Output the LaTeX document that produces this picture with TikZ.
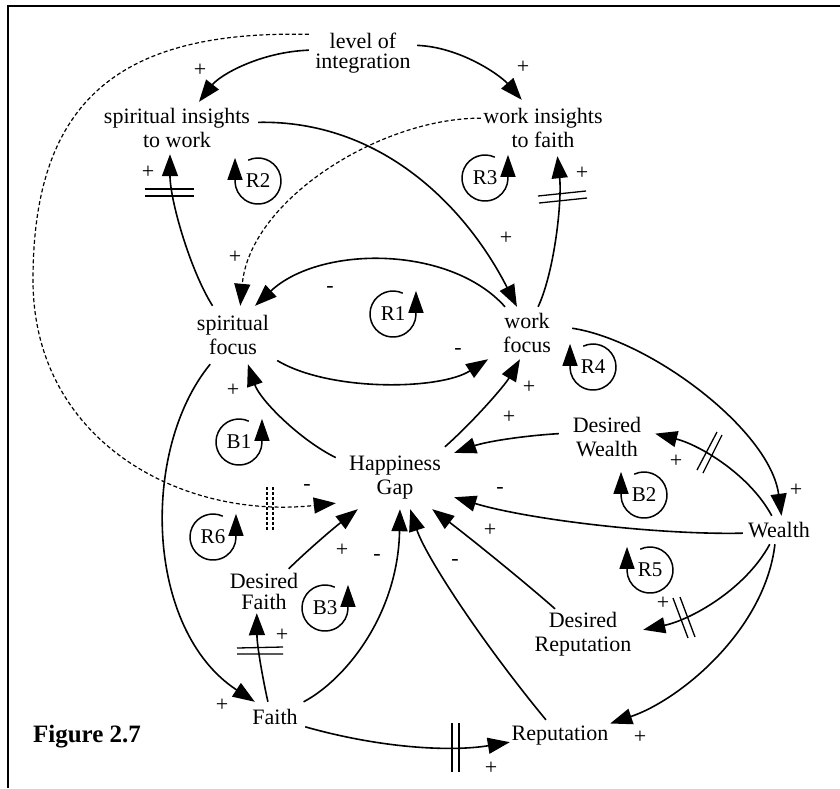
\documentclass[tikz,border=0pt]{standalone}
\usepackage{fontspec}
\setmainfont{Liberation Serif}
\usetikzlibrary{arrows.meta}

\tikzset{
  var/.style 2 args={inner sep=0pt, minimum width=#1pt, minimum height=#2pt,
    align=center, font=\fontsize{22}{24}\selectfont},
  link/.style={line width=1.6pt, -{Triangle[length=22pt,width=16pt]}},
  dlink/.style={line width=1.2pt, dash pattern=on 4pt off 2.5pt,
    -{Triangle[length=22pt,width=16pt]}},
  delay/.style={line width=1.3pt},
  ddelay/.style={line width=1.2pt, dash pattern=on 3pt off 2pt},
  sign/.style={inner sep=0pt, font=\fontsize{22}{24}\selectfont},
  loopline/.style={line width=1.5pt, -{Triangle[length=22pt,width=15pt]}},
  looptext/.style={inner sep=0pt, font=\fontsize{21}{22}\selectfont},
  pics/cwloop/.style={code={
    \draw[loopline] (115:23pt) arc[start angle=115,end angle=-178,radius=23pt] -- ++(0pt,24pt);
    \node[looptext] (-t) at (0,0) {#1};
  }},
  pics/ccwloop/.style={code={
    \draw[loopline] (65:23pt) arc[start angle=65,end angle=358,radius=23pt] -- ++(0pt,24pt);
    \node[looptext] (-t) at (0,0) {#1};
  }},
}

\begin{document}
\begin{tikzpicture}[x=1pt,y=-1pt]
\useasboundingbox (0,0) rectangle (840,788);

% frame (top and left edges)
\draw[line width=1.5pt] (8,788) -- (8,6) -- (840,6);

% variables
\node[var={108}{48}, font=\fontsize{22}{20}\selectfont] (lvl) at (363,53) {level of\\integration};
\node[var={162}{52}] (siw) at (177,128) {spiritual insights\\to work};
\node[var={124}{56}] (wif) at (543,128) {work insights\\to faith};
\node[var={88}{58}] (sf) at (233,335) {spiritual\\focus};
\node[var={90}{52}] (wf) at (527,333) {work\\focus};
\node[var={96}{50}] (dw) at (607,437) {Desired\\Wealth};
\node[var={118}{62}] (hg) at (395,478) {Happiness\\Gap};
\node[var={72}{28}] (wl) at (779,530) {Wealth};
\node[var={120}{50}] (dr) at (583,634) {Desired\\Reputation};
\node[var={100}{32}] (rep) at (560,736) {Reputation};
\node[var={72}{44}, font=\fontsize{22}{21}\selectfont] (df) at (264,591) {Desired\\Faith};
\node[var={60}{30}] (fa) at (275,717) {Faith};
\node[inner sep=0pt, font=\fontsize{25}{28}\selectfont\bfseries] (fig) at (87,737) {Figure 2.7};

% causal links
\draw[link] (lvl.177) .. controls (260,52) and (220,75) .. (siw.50);
\draw[link] (lvl.8) .. controls (460,47) and (500,75) .. (wif.127);
\draw[dlink] (lvl.161) .. controls (120,30) and (33,100) .. (33,280)
  .. controls (33,440) and (180,520) .. (hg.203);
\draw[link] (siw.4) .. controls (380,120) and (465,205) .. (wf.111);
\draw[link] (sf.125) .. controls (190,270) and (170,200) .. (siw.255);
\draw[link] (wf.67) .. controls (555,270) and (562,200) .. (wif.297);
\draw[dlink] (wif.171) .. controls (380,118) and (250,200) .. (sf.76);
\draw[link] (wf.130) .. controls (450,245) and (320,245) .. (sf.53);
\draw[link] (sf.330) .. controls (330,392) and (440,390) .. (wf.214);
\draw[link] (hg.161) .. controls (300,440) and (260,400) .. (sf.297);
\draw[link] (hg.32) .. controls (475,420) and (505,385) .. (wf.255);
\draw[link] (dw.176) .. controls (520,436) and (485,442) .. (hg.23);
\draw[link] (wl.185) .. controls (660,535) and (530,520) .. (hg.342);
\draw[link] (dr.138) .. controls (520,578) and (465,534) .. (hg.320);
\draw[link] (rep.131) .. controls (480,640) and (425,555) .. (hg.296);
\draw[link] (fa.28) .. controls (345,680) and (398,615) .. (hg.279);
\draw[link] (df.42) .. controls (310,548) and (335,527) .. (hg.220);
\draw[link] (sf.232) .. controls (140,450) and (145,630) .. (fa.143);
\draw[link] (fa.115) .. controls (262,675) and (257,645) .. (df.252);
\draw[link] (fa.342) .. controls (380,748) and (450,752) .. (rep.187);
\draw[link] (wl.254) .. controls (765,630) and (680,700) .. (rep.14);
\draw[link] (wl.237) .. controls (745,590) and (690,620) .. (dr.4);
\draw[link] (wf.6) .. controls (650,340) and (770,430) .. (wl.80);
\draw[link] (wl.117) .. controls (750,475) and (700,445) .. (dw.4);

% delay marks
\draw[delay] (145,189) -- (194,189) (145,196) -- (194,196);
\draw[delay] (538,196) -- (586,191) (539,203) -- (587,198);
\draw[delay] (237,648) -- (283,647) (237,654) -- (283,654);
\draw[delay] (452,723) -- (452,772) (459,723) -- (459,772);
\draw[ddelay] (267,487) -- (267,530) (273,487) -- (273,530);
\draw[delay] (697,470) -- (717,432) (703,473) -- (722,435);
\draw[delay] (673,598) -- (688,638) (680,597) -- (695,637);

% polarities
\node[sign] (s1) at (200,70) {+};
\node[sign] (s2) at (523,67) {+};
\node[sign] (s3) at (307,487) {-};
\node[sign] (s4) at (506,238) {+};
\node[sign] (s5) at (148,172) {+};
\node[sign] (s6) at (582,173) {+};
\node[sign] (s7) at (235,257) {+};
\node[sign] (s8) at (330,289) {-};
\node[sign] (s9) at (458,351) {-};
\node[sign] (s10) at (233,390) {+};
\node[sign] (s11) at (529,387) {+};
\node[sign] (s12) at (509,417) {+};
\node[sign] (s13) at (500,490) {-};
\node[sign] (s14) at (490,530) {+};
\node[sign] (s15) at (455,562) {-};
\node[sign] (s16) at (377,557) {-};
\node[sign] (s17) at (342,550) {+};
\node[sign] (s18) at (222,705) {+};
\node[sign] (s19) at (282,635) {+};
\node[sign] (s20) at (491,768) {+};
\node[sign] (s21) at (640,737) {+};
\node[sign] (s22) at (663,603) {+};
\node[sign] (s23) at (796,490) {+};
\node[sign] (s24) at (676,461) {+};

% loop identifiers
\pic (r1) at (393,314) {ccwloop=R1};
\pic (r2) at (258,181) {cwloop=R2};
\pic (r3) at (485,178) {ccwloop=R3};
\pic (r4) at (593,367) {cwloop=R4};
\pic (r5) at (650,570) {cwloop=R5};
\pic (r6) at (213,537) {ccwloop=R6};
\pic (b1) at (239,442) {ccwloop=B1};
\pic (b2) at (644,495) {cwloop=B2};
\pic (b3) at (325,608) {ccwloop=B3};
\end{tikzpicture}
\end{document}
